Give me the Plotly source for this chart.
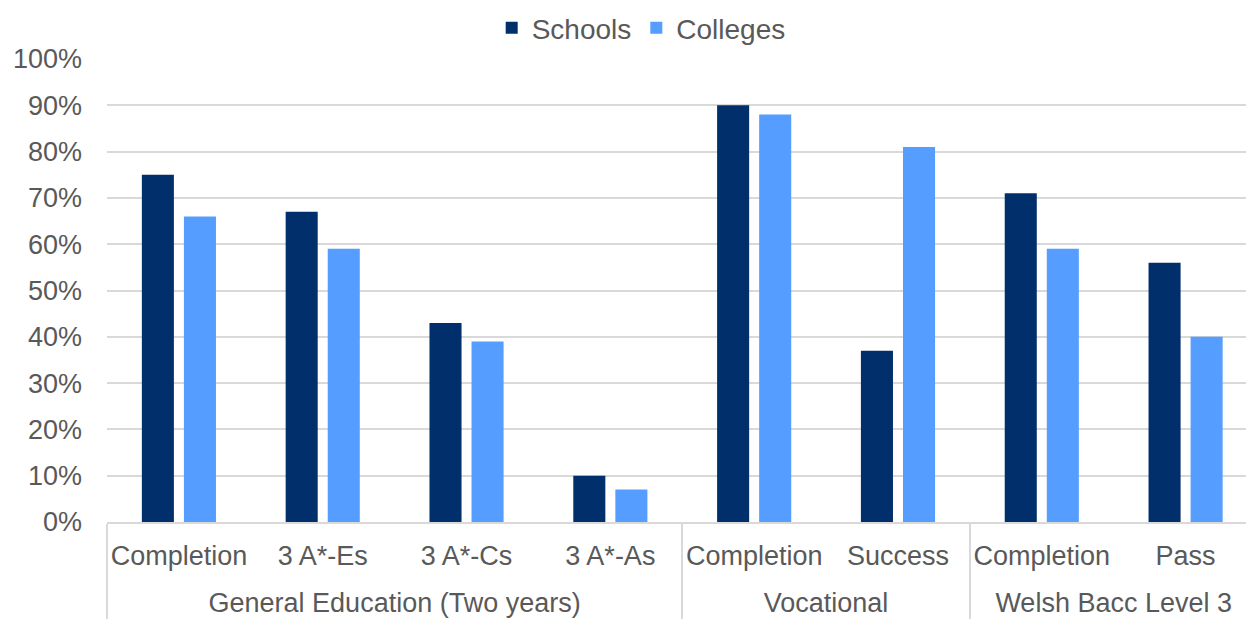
import plotly.graph_objects as go

# Measures grouped by programme type
group_names = ["General Education (Two years)", "Vocational", "Welsh Bacc Level 3"]
group_sizes = [4, 2, 2]
measures = ["Completion", "3 A*-Es", "3 A*-Cs", "3 A*-As", "Completion", "Success", "Completion", "Pass"]

schools = [0.75, 0.67, 0.43, 0.10, 0.90, 0.37, 0.71, 0.56]
colleges = [0.66, 0.59, 0.39, 0.07, 0.88, 0.81, 0.59, 0.40]

y_ticks = [i / 10 for i in range(11)]

FONT = "Liberation Sans, Arial, sans-serif"
TEXT = "#595959"
GRID = "#d9d9d9"

# outer-level labels sit a little under one line below the measure labels:
# a line break pushes them down, a full-size superscript lifts them back a bit
groups = []
for name, n in zip(group_names, group_sizes):
    groups += ["<br><sup><span style='font-size:27px'>" + name + "</span></sup>"] * n

fig = go.Figure()
fig.add_trace(go.Bar(name="Schools", x=[groups, measures], y=schools,
                     marker=dict(color="#002F6C", line=dict(width=0))))
fig.add_trace(go.Bar(name="Colleges", x=[groups, measures], y=colleges,
                     marker=dict(color="#559DFF", line=dict(width=0))))

fig.update_layout(
    width=1246, height=619,
    margin=dict(l=107, r=0, t=59, b=97),
    paper_bgcolor="white", plot_bgcolor="white",
    barmode="group", bargap=0.415, bargroupgap=0.238,
    font=dict(family=FONT, size=27, color=TEXT),
    legend=dict(orientation="h", x=0.469, xanchor="center",
                yref="container", y=1 - 28 / 619, yanchor="middle",
                font=dict(size=28, color=TEXT), itemwidth=30, traceorder="normal"),
    xaxis=dict(type="multicategory", range=[-0.5, 7.42],
               showline=True, linecolor=GRID, linewidth=1.5,
               showgrid=False, ticks="", tickangle=0, automargin=False,
               showdividers=True, dividercolor=GRID, dividerwidth=1.5,
               ticklabelstandoff=9,
               tickfont=dict(size=27, color=TEXT)),
    yaxis=dict(range=[0, 1.0], tickvals=y_ticks, tickformat=".0%",
               showgrid=True, gridcolor=GRID, gridwidth=1.5,
               zeroline=False, showline=False, ticks="", automargin=False,
               ticklabelstandoff=24,
               tickfont=dict(size=27, color=TEXT)),
)

fig.write_html("out.html")
